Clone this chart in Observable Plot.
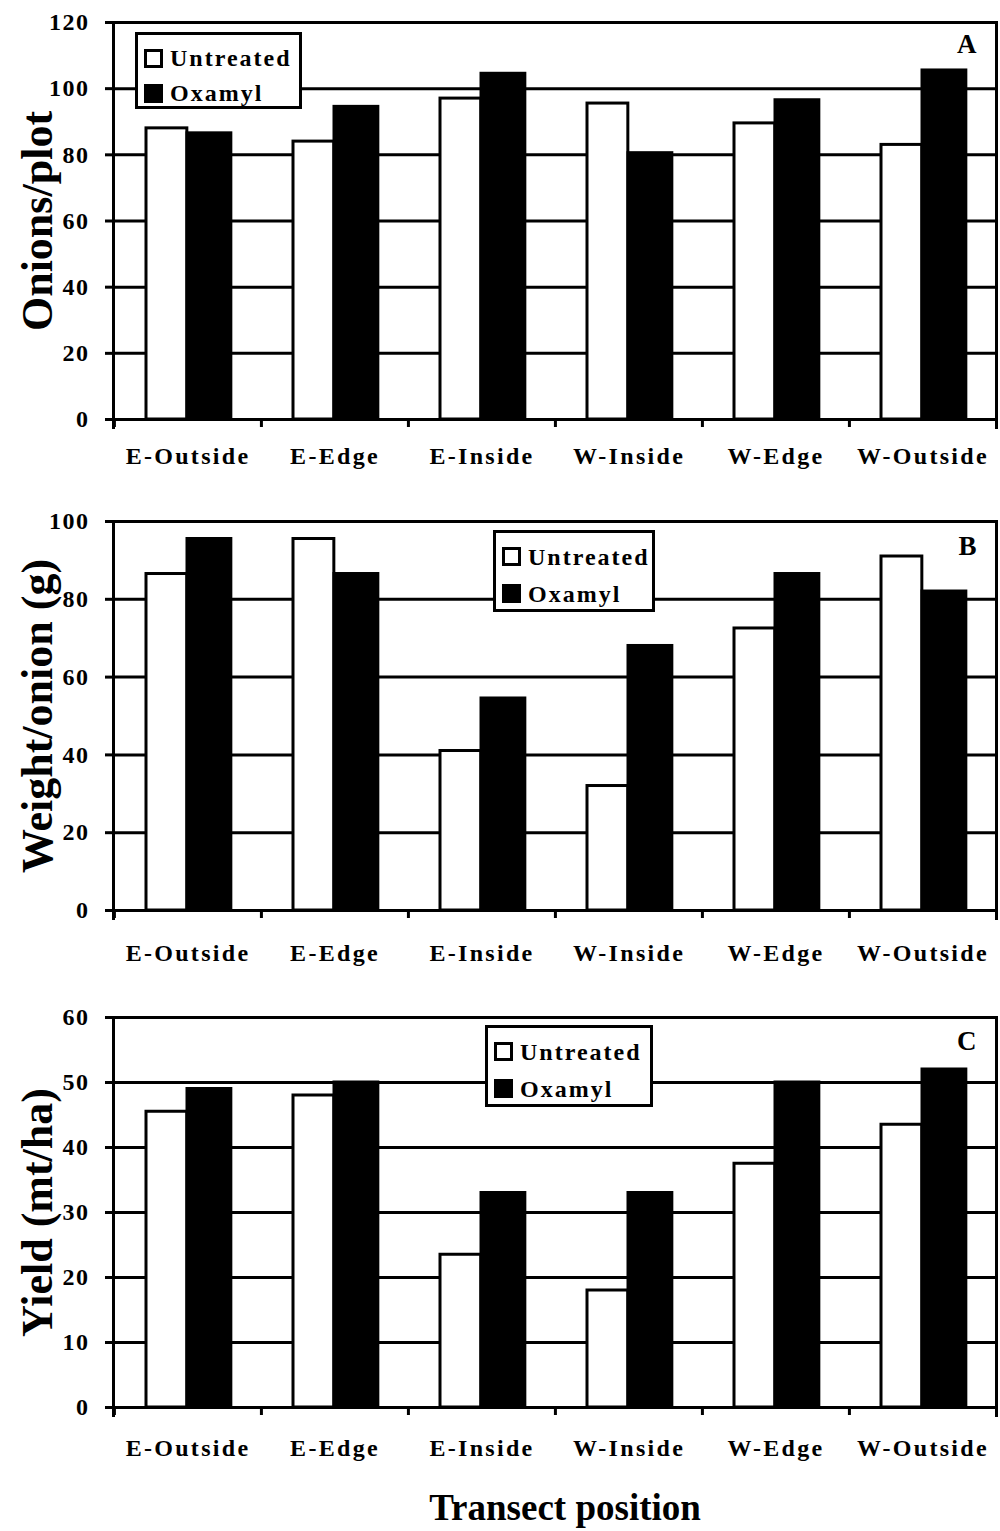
<!DOCTYPE html>
<html>
<head>
<meta charset="utf-8">
<script src="https://cdn.jsdelivr.net/npm/d3@7"></script>
<script src="https://cdn.jsdelivr.net/npm/@observablehq/plot@0.6"></script>
<style>
  html, body { margin: 0; padding: 0; background: #fff; }
  #wrap { position: relative; width: 1000px; height: 1531px; background: #fff; overflow: hidden;
          font-family: "Liberation Serif", "Times New Roman", serif; font-weight: bold; }
  #wrap svg { position: absolute; left: 0; }
  .legend { position: absolute; background: #fff; border: 3px solid #000; box-sizing: border-box; }
  .legend .item { position: absolute; display: flex; align-items: center; font-size: 24px; letter-spacing: 2px; line-height: 1; }
  .legend .sw { width: 19px; height: 19px; box-sizing: border-box; border: 3px solid #000; margin-right: 7px; }
  #xtitle { position: absolute; left: 0; width: 1130px; text-align: center; font-size: 37px; top: 1486px; }
</style>
</head>
<body>
<div id="wrap"></div>
<script>
// ---- data ----
const categories = ["E-Outside", "E-Edge", "E-Inside", "W-Inside", "W-Edge", "W-Outside"];
const seriesNames = ["Untreated", "Oxamyl"];

const onionsUntreated = [88, 84, 97, 95.5, 89.5, 83];
const onionsOxamyl    = [86.5, 94.5, 104.5, 80.5, 96.5, 105.5];

const weightUntreated = [86.5, 95.5, 41, 32, 72.5, 91];
const weightOxamyl    = [95.5, 86.5, 54.5, 68, 86.5, 82];

const yieldUntreated  = [45.5, 48, 23.5, 18, 37.5, 43.5];
const yieldOxamyl     = [49, 50, 33, 33, 50, 52];

const ticksA = [0, 20, 40, 60, 80, 100, 120];
const ticksB = [0, 20, 40, 60, 80, 100];
const ticksC = [0, 10, 20, 30, 40, 50, 60];

const xTitle = "Transect position";

// ---- layout ----
const wrap = document.getElementById("wrap");
const W = 1000, mLeft = 113, mRight = 4;
const band = (W - mLeft - mRight) / categories.length;

function panel(cfg) {
  const data = categories.map((c, i) => ({cat: c, u: cfg.u[i], o: cfg.o[i]}));
  const lw = 3;
  const chart = Plot.plot({
    width: W,
    height: cfg.height,
    marginLeft: mLeft,
    marginRight: mRight,
    marginTop: cfg.mTop,
    marginBottom: cfg.mBottom,
    style: {fontFamily: '"Liberation Serif", "Times New Roman", serif', fontWeight: "bold", background: "transparent", color: "black", overflow: "visible"},
    x: {domain: categories, padding: 0, axis: null},
    y: {domain: [0, cfg.ticks[cfg.ticks.length - 1]], axis: null},
    marks: [
      Plot.ruleY(cfg.ticks, {stroke: "black", strokeWidth: lw}),
      Plot.barY(data, {x: "cat", y: "u", fill: "white", stroke: "black", strokeWidth: lw, insetLeft: 32, insetRight: band - 73}),
      Plot.barY(data, {x: "cat", y: "o", fill: "black", stroke: "black", strokeWidth: lw, insetLeft: 73, insetRight: band - 117}),
      Plot.frame({anchor: "left", stroke: "black", strokeWidth: lw, insetBottom: -8}),
      Plot.frame({anchor: "right", stroke: "black", strokeWidth: lw, insetBottom: -8}),
      Plot.axisY({ticks: cfg.ticks, tickSize: 8, tickPadding: 16, strokeWidth: lw, fontSize: 24, label: null}),
      Plot.axisX({tickSize: 8, strokeWidth: lw, tickFormat: () => "", dx: -band / 2, label: null}),
      Plot.axisX({tickSize: 0, tickPadding: cfg.xPad, fontSize: 24, label: null}),
      Plot.text([cfg.yLabel], {frameAnchor: "left", rotate: -90, dx: -76, fontSize: 44, fill: "black", textAnchor: "middle", lineAnchor: "middle"}),
      Plot.text([cfg.letter], {frameAnchor: "top-right", dx: -20, dy: cfg.letterDy, fontSize: 27, fill: "black", lineAnchor: "top"})
    ]
  });
  d3.select(chart).selectAll('g[aria-label="x-axis tick label"] text').style("letter-spacing", "2.3px");
  d3.select(chart).selectAll('g[aria-label="y-axis tick label"] text').style("letter-spacing", "1.5px");
  chart.style.top = cfg.top + "px";
  wrap.appendChild(chart);

  const lg = document.createElement("div");
  lg.className = "legend";
  Object.assign(lg.style, {left: cfg.lg[0] + "px", top: cfg.lg[1] + "px", width: cfg.lg[2] + "px", height: cfg.lg[3] + "px"});
  seriesNames.forEach((name, i) => {
    const it = document.createElement("div");
    it.className = "item";
    it.style.left = "6px";
    it.style.top = (i === 0 ? 11 : 46) * cfg.lg[3] / 77 + "px";
    const sw = document.createElement("span");
    sw.className = "sw";
    sw.style.background = i === 0 ? "white" : "black";
    it.appendChild(sw);
    it.appendChild(document.createTextNode(name));
    lg.appendChild(it);
  });
  wrap.appendChild(lg);
}

panel({u: onionsUntreated, o: onionsOxamyl, ticks: ticksA, yLabel: "Onions/plot", letter: "A",
       top: 0, height: 490, mTop: 22, mBottom: 71, xPad: 27, letterDy: 11, lg: [135, 32, 167, 77]});
panel({u: weightUntreated, o: weightOxamyl, ticks: ticksB, yLabel: "Weight/onion (g)", letter: "B",
       top: 490, height: 490, mTop: 31, mBottom: 70, xPad: 33, letterDy: 14, lg: [493, 530, 162, 82]});
panel({u: yieldUntreated, o: yieldOxamyl, ticks: ticksC, yLabel: "Yield (mt/ha)", letter: "C",
       top: 980, height: 490, mTop: 37, mBottom: 63, xPad: 31, letterDy: 13, lg: [485, 1025, 168, 82]});

const t = document.createElement("div");
t.id = "xtitle";
t.textContent = xTitle;
wrap.appendChild(t);
</script>
</body>
</html>
